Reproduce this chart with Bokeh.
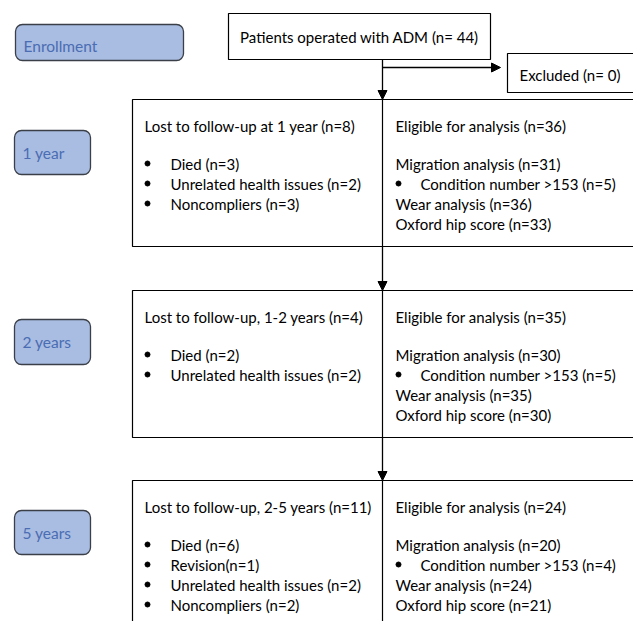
from bokeh.plotting import figure
from bokeh.models import Range1d, BoxAnnotation, Arrow, NormalHead
from bokeh.core.properties import value
from bokeh.embed import file_html
from bokeh.resources import INLINE

# ---- chart content ----
enroll_label = "Enrollment"
stage_labels = ["1 year", "2 years", "5 years"]
start_text = "Patients operated with ADM (n= 44)"
excluded_text = "Excluded (n= 0)"
lost_titles = ["Lost to follow-up at 1 year (n=8)",
               "Lost to follow-up, 1-2 years (n=4)",
               "Lost to follow-up, 2-5 years (n=11)"]
lost_items = [["Died (n=3)", "Unrelated health issues (n=2)", "Noncompliers (n=3)"],
              ["Died (n=2)", "Unrelated health issues (n=2)"],
              ["Died (n=6)", "Revision(n=1)", "Unrelated health issues (n=2)", "Noncompliers (n=2)"]]
eligible_titles = ["Eligible for analysis (n=36)",
                   "Eligible for analysis (n=35)",
                   "Eligible for analysis (n=24)"]
eligible_items = [["Migration analysis (n=31)", "Condition number >153 (n=5)", "Wear analysis (n=36)", "Oxford hip score (n=33)"],
                  ["Migration analysis (n=30)", "Condition number >153 (n=5)", "Wear analysis (n=35)", "Oxford hip score (n=30)"],
                  ["Migration analysis (n=20)", "Condition number >153 (n=4)", "Wear analysis (n=24)", "Oxford hip score (n=21)"]]
eligible_bullet = [False, True, False, False]

# ---- layout (pixel coordinates of the page) ----
box_tops = [99, 290, 480]
box_bottoms = [246, 437, 660]
title_dy = 26
row_dy = 64
row_step = 20
stage_boxes = [(130, 174), (319, 364), (510, 554)]
DIV_X = 382
FONT = "Lato"
FS = "15px"
LABEL_FS = "15.5px"
BLUE_FILL = "#A9BCE2"
BLUE_TEXT = "#4A6DB3"

p = figure(width=633, height=621, x_range=Range1d(0, 633), y_range=Range1d(621, 0),
           output_backend="svg", toolbar_location=None, min_border=0)
p.axis.visible = False
p.xgrid.visible = False
p.ygrid.visible = False
p.outline_line_color = None
p.background_fill_color = "white"
p.border_fill_color = "white"

def rbox(l, r, t, b):
    p.add_layout(BoxAnnotation(left=l, right=r, top=t, bottom=b, fill_color=BLUE_FILL, fill_alpha=1,
                               line_color="#3A3F48", line_alpha=1, line_width=1.3, border_radius=7,
                               level="underlay"))

def pbox(l, r, t, b):
    p.add_layout(BoxAnnotation(left=l, right=r, top=t, bottom=b, fill_alpha=0,
                               line_color="black", line_alpha=1, line_width=1.2, level="underlay"))

# rounded stage boxes
rbox(15, 183, 24, 60)
for (t, b) in stage_boxes:
    rbox(14, 90, t, b)

# plain boxes
pbox(228, 490, 13, 59)
pbox(507, 680, 53, 92)
for t, b in zip(box_tops, box_bottoms):
    pbox(132, 680, t, b)
    p.segment(x0=[DIV_X], y0=[t], x1=[DIV_X], y1=[b], line_color="black", line_width=1.2)

# arrows
def arrow(x0, y0, x1, y1):
    p.add_layout(Arrow(end=NormalHead(size=9, fill_color="black", line_color="black"),
                       x_start=x0, y_start=y0, x_end=x1, y_end=y1, line_color="black", line_width=1.3))

arrow(DIV_X, 59, DIV_X, 99)
arrow(DIV_X, 67, 500, 67)
arrow(DIV_X, box_bottoms[0], DIV_X, box_tops[1])
arrow(DIV_X, box_bottoms[1], DIV_X, box_tops[2])

def txt(x, y, s, color="black", align="left", fs=FS):
    p.text(x=[x], y=[y], text=[s], text_font=value(FONT), text_font_size=fs, text_color=color,
           text_align=align, text_baseline="middle")

# stage labels
txt(23, 45, enroll_label, BLUE_TEXT, fs=LABEL_FS)
for (t, b), s in zip(stage_boxes, stage_labels):
    txt(22, (t + b) / 2, s, BLUE_TEXT, fs=LABEL_FS)

txt(359, 36, start_text, align="center")
txt(519, 74, excluded_text)

bx, by = [], []
for i, top in enumerate(box_tops):
    ty = top + title_dy
    txt(144, ty, lost_titles[i])
    txt(395, ty, eligible_titles[i])
    for j, s in enumerate(lost_items[i]):
        y = top + row_dy + j * row_step
        bx.append(147); by.append(y)
        txt(170, y, s)
    for j, s in enumerate(eligible_items[i]):
        y = top + row_dy + j * row_step
        if eligible_bullet[j]:
            bx.append(398); by.append(y)
            txt(420, y, s)
        else:
            txt(395, y, s)

p.scatter(x=bx, y=by, size=5, marker="circle", fill_color="black", line_color="black")

open("out.html", "w").write(file_html(p, INLINE))
